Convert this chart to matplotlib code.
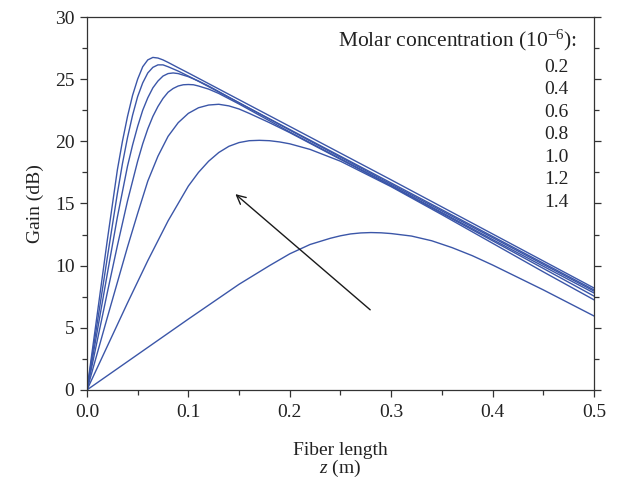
import matplotlib
matplotlib.use("Agg")
import matplotlib.pyplot as plt
from matplotlib.ticker import MultipleLocator, FormatStrFormatter

# ----------------------------------------------------------------------
# Data (fiber length z in m, gain in dB)
concentrations = ["0.2", "0.4", "0.6", "0.8", "1.0", "1.2", "1.4"]

z_02 = [0, 0.05, 0.10, 0.15, 0.18, 0.20, 0.22, 0.24, 0.25, 0.26, 0.27, 0.28,
        0.29, 0.30, 0.32, 0.34, 0.36, 0.38, 0.40, 0.45, 0.50]
g_02 = [0, 2.85, 5.7, 8.5, 10.0, 10.95, 11.7, 12.2, 12.4, 12.55, 12.63, 12.66,
        12.64, 12.58, 12.38, 12.0, 11.45, 10.8, 10.05, 8.05, 5.95]

z_04 = [0, 0.02, 0.04, 0.06, 0.08, 0.10, 0.11, 0.12, 0.13, 0.14, 0.15, 0.16,
        0.17, 0.18, 0.19, 0.20, 0.22, 0.25, 0.30, 0.35, 0.40, 0.45, 0.50]
g_04 = [0, 3.5, 7.0, 10.4, 13.6, 16.4, 17.5, 18.4, 19.1, 19.6, 19.9, 20.05,
        20.08, 20.05, 19.95, 19.8, 19.35, 18.4, 16.35, 14.1, 11.8, 9.5, 7.25]

z_06 = [0, 0.02, 0.04, 0.05, 0.06, 0.07, 0.08, 0.09, 0.10, 0.11, 0.12, 0.13,
        0.14, 0.15, 0.16, 0.18, 0.20, 0.25, 0.30, 0.40, 0.50]
g_06 = [0, 5.8, 11.5, 14.2, 16.8, 18.8, 20.4, 21.5, 22.25, 22.7, 22.92, 22.98,
        22.85, 22.6, 22.25, 21.5, 20.7, 18.55, 16.4, 12.0, 7.55]

z_08 = [0, 0.01, 0.02, 0.03, 0.04, 0.05, 0.055, 0.06, 0.065, 0.07, 0.075, 0.08,
        0.085, 0.09, 0.095, 0.10, 0.105, 0.11, 0.12, 0.13, 0.15, 0.20, 0.30,
        0.40, 0.50]
g_08 = [0, 3.9, 7.8, 11.6, 15.2, 18.4, 19.8, 21.0, 22.0, 22.8, 23.45, 23.95,
        24.25, 24.45, 24.55, 24.57, 24.55, 24.45, 24.2, 23.85, 23.0, 20.75, 16.45,
        12.1, 7.8]

z_10 = [0, 0.01, 0.02, 0.03, 0.04, 0.045, 0.05, 0.055, 0.06, 0.065, 0.07, 0.075,
        0.08, 0.085, 0.09, 0.10, 0.11, 0.12, 0.15, 0.20, 0.30, 0.40, 0.50]
g_10 = [0, 4.65, 9.3, 13.9, 18.0, 19.7, 21.2, 22.5, 23.5, 24.3, 24.85, 25.25,
        25.45, 25.5, 25.45, 25.2, 24.85, 24.45, 23.1, 20.9, 16.55, 12.25, 7.95]

z_12 = [0, 0.01, 0.02, 0.03, 0.035, 0.04, 0.045, 0.05, 0.055, 0.06, 0.065, 0.07,
        0.075, 0.08, 0.09, 0.10, 0.11, 0.15, 0.20, 0.30, 0.40, 0.50]
g_12 = [0, 5.3, 10.6, 15.8, 18.2, 20.3, 22.1, 23.6, 24.7, 25.5, 25.95, 26.15,
        26.15, 26.0, 25.65, 25.25, 24.83, 23.1, 20.95, 16.65, 12.35, 8.05]

z_14 = [0, 0.01, 0.02, 0.03, 0.035, 0.04, 0.045, 0.05, 0.055, 0.06, 0.065, 0.07,
        0.075, 0.08, 0.09, 0.10, 0.15, 0.20, 0.30, 0.40, 0.50]
g_14 = [0, 6.0, 12.0, 17.7, 20.0, 22.0, 23.7, 25.0, 26.0, 26.55, 26.75, 26.7,
        26.55, 26.35, 25.92, 25.5, 23.35, 21.2, 16.9, 12.55, 8.2]

curves = [(z_02, g_02), (z_04, g_04), (z_06, g_06), (z_08, g_08),
          (z_10, g_10), (z_12, g_12), (z_14, g_14)]

# arrow (increasing concentration), tail -> head in data coords
arrow_tail = (0.2814, 6.3)
arrow_head = (0.1443, 15.9)

# ----------------------------------------------------------------------
plt.rcParams["font.family"] = "Liberation Serif"
plt.rcParams["mathtext.fontset"] = "custom"
plt.rcParams["mathtext.rm"] = "Liberation Serif"
plt.rcParams["mathtext.it"] = "Liberation Serif:italic"

FS = 14
fig = plt.figure(figsize=(6.21, 4.82), dpi=100)
ax = fig.add_axes([0.140, 0.191, 0.8165, 0.7737])

line_color = "#3b56a8"
for z, g in curves:
    ax.plot(z, g, color=line_color, lw=1.0)

ax.annotate("", xy=arrow_head, xytext=arrow_tail,
            arrowprops=dict(arrowstyle="->", color="#1a1a1a", lw=1.0,
                            mutation_scale=16))

ax.set_xlim(0, 0.5)
ax.set_ylim(0, 30)
ax.xaxis.set_major_locator(MultipleLocator(0.1))
ax.xaxis.set_minor_locator(MultipleLocator(0.05))
ax.xaxis.set_major_formatter(FormatStrFormatter("%.1f"))
ax.yaxis.set_major_locator(MultipleLocator(5))
ax.yaxis.set_minor_locator(MultipleLocator(2.5))

ax.tick_params(which="both", direction="out", colors="#333333",
               labelcolor="#222222", labelsize=FS, width=0.9)
ax.tick_params(which="major", length=5)
ax.tick_params(which="minor", length=3.5)
ax.tick_params(axis="x", which="major", pad=5)
ax.tick_params(axis="y", which="major", pad=4)
ax.tick_params(axis="y", which="both", right=True)

for s in ax.spines.values():
    s.set_color("#333333")
    s.set_linewidth(0.9)

ax.set_ylabel("Gain (dB)", fontsize=FS, color="#222222", labelpad=8)
ax.set_xlabel("Fiber length\n$z$ (m)", fontsize=FS, color="#222222",
              labelpad=15, linespacing=0.95)

# legend-like text block
ax.text(0.4835, 28.1, r"Molar concentration (10$^{-6}$):", ha="right",
        va="center", fontsize=15.5, color="#222222")
for i, c in enumerate(concentrations):
    ax.text(0.475, 25.95 - i * 1.81, c, ha="right", va="center",
            fontsize=FS, color="#222222")

fig.savefig("out.png", dpi=100)
